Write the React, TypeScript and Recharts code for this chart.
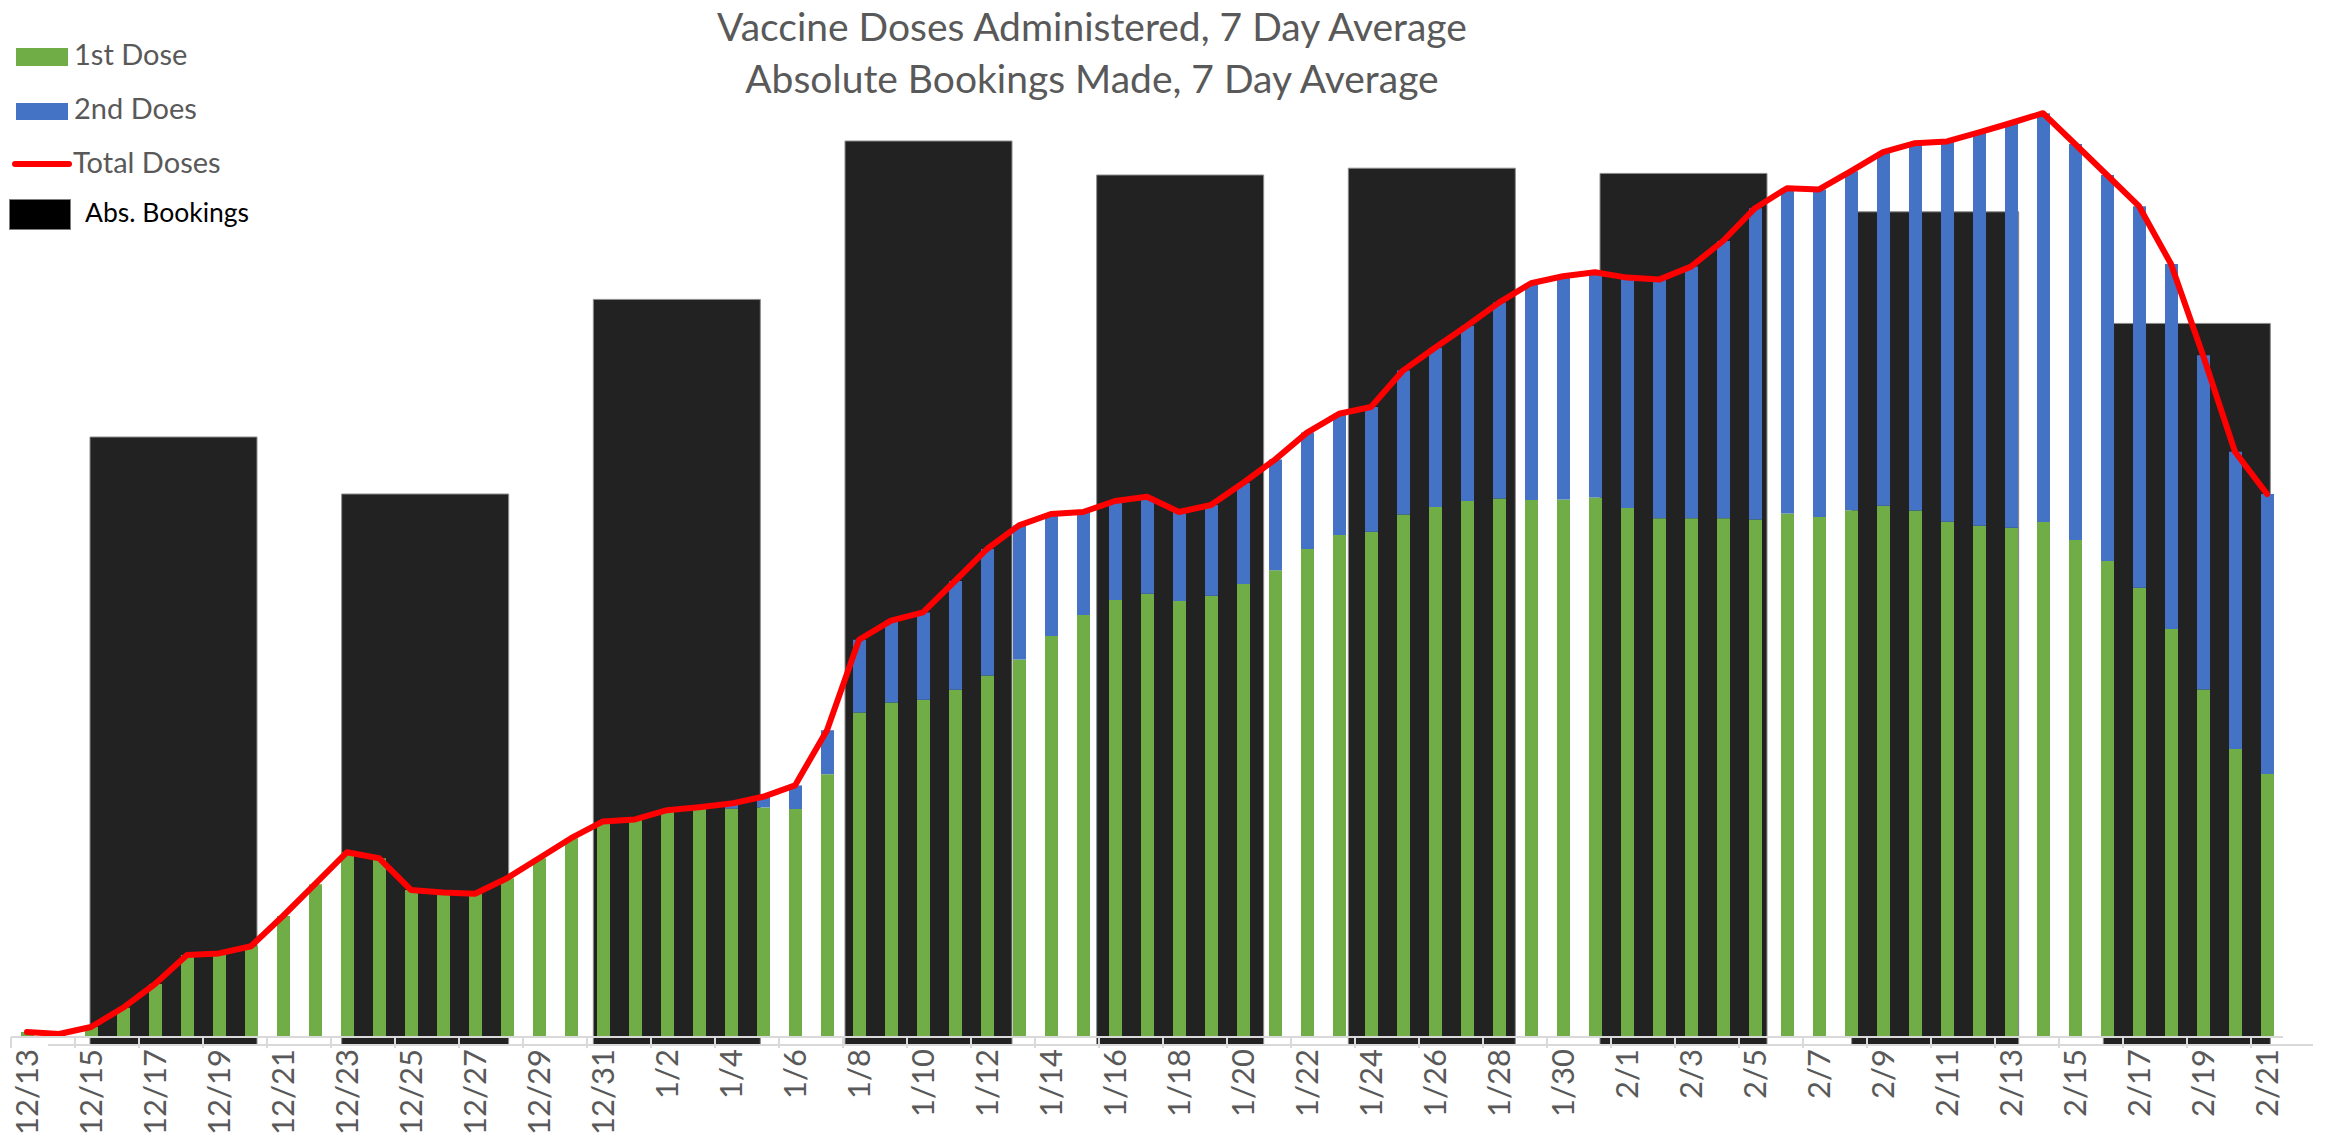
import React from 'react';
import { ComposedChart, BarChart, Bar, Line, XAxis, YAxis } from 'recharts';

// daily 7-day averages, 12/13 .. 2/21
const days = [
  '12/13', '12/14', '12/15', '12/16', '12/17', '12/18', '12/19', '12/20', '12/21', '12/22',
  '12/23', '12/24', '12/25', '12/26', '12/27', '12/28', '12/29', '12/30', '12/31', '1/1',
  '1/2', '1/3', '1/4', '1/5', '1/6', '1/7', '1/8', '1/9', '1/10', '1/11',
  '1/12', '1/13', '1/14', '1/15', '1/16', '1/17', '1/18', '1/19', '1/20', '1/21',
  '1/22', '1/23', '1/24', '1/25', '1/26', '1/27', '1/28', '1/29', '1/30', '1/31',
  '2/1', '2/2', '2/3', '2/4', '2/5', '2/6', '2/7', '2/8', '2/9', '2/10',
  '2/11', '2/12', '2/13', '2/14', '2/15', '2/16', '2/17', '2/18', '2/19', '2/20', '2/21',
];

const firstDose = [
  125, 75, 250, 730, 1325, 2050, 2090, 2270, 3025, 3820,
  4620, 4470, 3675, 3610, 3580, 3970, 4470, 4970, 5390, 5440,
  5630, 5710, 5710, 5740, 5700, 6570, 8110, 8360, 8430, 8680,
  9040, 9440, 10025, 10550, 10925, 11080, 10900, 11030, 11325, 11670,
  12200, 12550, 12630, 13060, 13250, 13400, 13460, 13425, 13440, 13490,
  13225, 12970, 12970, 12970, 12940, 13090, 13000, 13170, 13280, 13160,
  12880, 12780, 12730, 12875, 12425, 11900, 11230, 10200, 8690, 7200, 6575,
];

const secondDose = [
  0, 0, 0, 0, 0, 0, 0, 0, 0, 0,
  0, 0, 0, 0, 0, 0, 0, 0, 0, 0,
  40, 35, 125, 265, 590, 1100, 1820, 2050, 2185, 2720,
  3160, 3350, 3050, 2575, 2475, 2425, 2225, 2270, 2525, 2765,
  2910, 3030, 3120, 3600, 3980, 4380, 4900, 5420, 5580, 5630,
  5760, 5965, 6290, 6930, 7780, 8130, 8190, 8475, 8840, 9185,
  9510, 9835, 10120, 10220, 9900, 9650, 9540, 9125, 8355, 7430, 7000,
];

// weekly absolute bookings (secondary axis)
const weeks = ['W1', 'W2', 'W3', 'W4', 'W5', 'W6', 'W7', 'W8', 'W9'];
const bookings = [15200, 13775, 18640, 22600, 21750, 21920, 21790, 20830, 18040];

const W = 2325;
const H = 1138;
const Y_MAX = 23750;
const FONT = 'Lato, "Open Sans", sans-serif';
const GREY_TEXT = '#595959';
const AXIS_GREY = '#d9d9d9';

const daily = days.map((d, i) => ({
  date: d,
  first: firstDose[i],
  second: secondDose[i],
  total: firstDose[i] + secondDose[i],
}));
const weekly = weeks.map((w, i) => ({ week: w, bookings: bookings[i] }));

const FRONT_MARGIN = { top: 87, right: 42, bottom: 41, left: 11 };
const AXIS_H = 60;
const AXIS_Y = H - FRONT_MARGIN.bottom - AXIS_H;
const BAND = (W - FRONT_MARGIN.left - FRONT_MARGIN.right) / days.length;

const BACK_MARGIN = { top: 95, right: 12, bottom: 92, left: 48 };

const DateTick = (props: any) => {
  const { x, payload } = props;
  const ty = AXIS_Y + 12;
  return (
    <g>
      <line x1={x - BAND / 2} x2={x - BAND / 2} y1={AXIS_Y} y2={AXIS_Y + 11} stroke={AXIS_GREY} strokeWidth={2} />
      <text
        x={x}
        y={ty}
        transform={`rotate(-90 ${x} ${ty})`}
        textAnchor="end"
        dy="0.35em"
        fill={GREY_TEXT}
        fontSize={31}
        fontFamily={FONT}
      >
        {payload.value}
      </text>
    </g>
  );
};

const legendItems = [
  { label: '1st Dose', color: '#70AD47', kind: 'rect', y: 48, h: 18, tx: 74, ty: 65, size: 29 },
  { label: '2nd Does', color: '#4472C4', kind: 'rect', y: 103, h: 17, tx: 74, ty: 119, size: 29 },
  { label: 'Total Doses', color: '#FF0000', kind: 'line', y: 164, h: 0, tx: 73, ty: 173, size: 29 },
  { label: 'Abs. Bookings', color: '#000000', kind: 'box', y: 199, h: 30, tx: 85, ty: 222, size: 26.5 },
];

const Overlay = () => (
  <svg width={W} height={H} style={{ position: 'absolute', left: 0, top: 0, pointerEvents: 'none' }}>
    <g fontFamily={FONT} fill={GREY_TEXT} fontSize={39} textAnchor="middle">
      <text x={1092} y={41}>Vaccine Doses Administered, 7 Day Average</text>
      <text x={1092} y={93}>Absolute Bookings Made, 7 Day Average</text>
    </g>
    {legendItems.map((it) => (
      <g key={it.label}>
        {it.kind === 'rect' && <rect x={16} y={it.y} width={52} height={it.h} fill={it.color} />}
        {it.kind === 'line' && (
          <line x1={15} x2={69} y1={it.y} y2={it.y} stroke={it.color} strokeWidth={6} strokeLinecap="round" />
        )}
        {it.kind === 'box' && (
          <rect x={9.5} y={it.y + 0.5} width={61} height={it.h} fill={it.color} stroke="#7f7f7f" strokeWidth={1} />
        )}
        <text
          x={it.tx}
          y={it.ty}
          fontFamily={FONT}
          fontSize={it.size}
          fill={it.kind === 'box' ? '#000000' : GREY_TEXT}
        >
          {it.label}
        </text>
      </g>
    ))}
  </svg>
);

export default function App() {
  return (
    <div style={{ position: 'absolute', left: 0, top: 0, width: W, height: H, background: '#ffffff' }}>
      <div style={{ position: 'absolute', left: 0, top: 0 }}>
        <BarChart width={W} height={H} data={weekly} margin={BACK_MARGIN} barCategoryGap={0}>
          <XAxis
            dataKey="week"
            height={1}
            tick={false}
            tickLine={false}
            axisLine={{ stroke: AXIS_GREY, strokeWidth: 2 }}
          />
          <YAxis hide width={0} domain={[0, Y_MAX]} />
          <Bar dataKey="bookings" fill="#222222" stroke="#8c8c8c" strokeWidth={1} barSize={167} isAnimationActive={false} />
        </BarChart>
      </div>
      <div style={{ position: 'absolute', left: 0, top: 0 }}>
        <ComposedChart width={W} height={H} data={daily} margin={FRONT_MARGIN}>
          <XAxis
            dataKey="date"
            height={AXIS_H}
            interval={1}
            tickSize={0}
            tickMargin={0}
            tickLine={false}
            axisLine={{ stroke: AXIS_GREY, strokeWidth: 2 }}
            tick={<DateTick />}
          />
          <YAxis hide width={0} domain={[0, Y_MAX]} />
          <Bar dataKey="first" stackId="doses" fill="#70AD47" barSize={13} isAnimationActive={false} />
          <Bar dataKey="second" stackId="doses" fill="#4472C4" barSize={13} isAnimationActive={false} />
          <Line
            dataKey="total"
            type="linear"
            stroke="#FF0000"
            strokeWidth={6}
            strokeLinejoin="round"
            strokeLinecap="round"
            dot={false}
            activeDot={false}
            isAnimationActive={false}
          />
        </ComposedChart>
      </div>
      <Overlay />
    </div>
  );
}
